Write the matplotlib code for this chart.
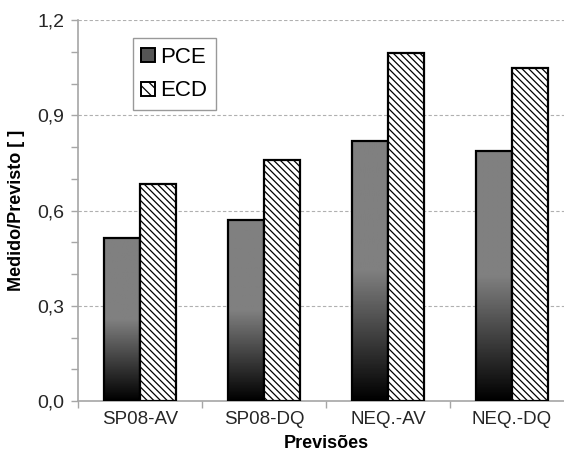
import numpy as np
import matplotlib
matplotlib.use("Agg")
import matplotlib.pyplot as plt
from matplotlib.patches import Rectangle
from matplotlib.ticker import FixedLocator, MultipleLocator, FuncFormatter

# Data
categories = ["SP08-AV", "SP08-DQ", "NEQ.-AV", "NEQ.-DQ"]
pce = [0.512, 0.569, 0.819, 0.787]
ecd = [0.685, 0.758, 1.095, 1.050]
series_names = ["PCE", "ECD"]

plt.rcParams["font.family"] = ["Liberation Sans", "DejaVu Sans"]
plt.rcParams["hatch.linewidth"] = 0.9

fig = plt.figure(figsize=(5.64, 4.54), dpi=100)
ax = fig.add_axes([78 / 564, 53 / 454, 496 / 564, 381 / 454])

x = np.arange(len(categories))
w = 0.29

# PCE: gradient-filled bars (grey top half fading to black at the base)
grad = np.ones((200, 1))
t = np.linspace(0, 1, 200)  # 0 = bottom, 1 = top
grad[:, 0] = np.clip(t / 0.5, 0, 1) * 0.5
for xi, v in zip(x, pce):
    left = xi - w
    ax.imshow(grad, cmap="gray", vmin=0, vmax=1, origin="lower",
              extent=[left, left + w, 0, v], aspect="auto",
              interpolation="bilinear", zorder=2)
bars_pce = ax.bar(x - w / 2, pce, w, facecolor="none", edgecolor="black",
                  linewidth=1.6, zorder=3)

# ECD: hatched bars
bars_ecd = ax.bar(x + w / 2, ecd, w, facecolor="white", edgecolor="black",
                  hatch="\\\\\\\\\\", linewidth=1.6, zorder=3)

ax.set_xlim(-0.5, 3.5)
ax.set_ylim(0, 1.2)
ax.set_aspect("auto")

# Axes styling
for s in ["top", "right"]:
    ax.spines[s].set_visible(False)
for s in ["left", "bottom"]:
    ax.spines[s].set_color("#a6a6a6")
    ax.spines[s].set_linewidth(1.2)

ax.yaxis.set_major_locator(MultipleLocator(0.3))
ax.yaxis.set_minor_locator(MultipleLocator(0.1))
ax.yaxis.set_major_formatter(FuncFormatter(lambda v, p: f"{v:.1f}".replace(".", ",")))
ax.tick_params(axis="y", which="both", direction="out", length=5, width=1,
               color="#a6a6a6", labelsize=14, labelcolor="#262626", pad=5)

ax.xaxis.set_major_locator(FixedLocator([-0.5, 0.5, 1.5, 2.5, 3.5]))
ax.xaxis.set_major_formatter(FuncFormatter(lambda v, p: ""))
ax.xaxis.set_minor_locator(FixedLocator(x))
ax.set_xticklabels(categories, minor=True)
ax.tick_params(axis="x", which="major", direction="out", length=5, width=1,
               color="#a6a6a6")
ax.tick_params(axis="x", which="minor", length=0, labelsize=13.5,
               labelcolor="#262626", pad=7)

ax.grid(axis="y", which="major", linestyle=(0, (3, 2)), color="#b0b0b0",
        linewidth=0.8, zorder=0)
ax.set_axisbelow(True)

ax.set_xlabel("Previsões", fontsize=13, fontweight="bold", labelpad=5)
ax.set_ylabel("Medido/Previsto [ ]", fontsize=13, fontweight="bold", labelpad=9)

# Legend
h_pce = Rectangle((0, 0), 1, 1, facecolor="#555555", edgecolor="black", linewidth=1.4)
h_ecd = Rectangle((0, 0), 1, 1, facecolor="white", edgecolor="black",
                  hatch="\\\\\\", linewidth=1.4)
leg = ax.legend([h_pce, h_ecd], series_names, loc="upper left",
                bbox_to_anchor=(0.11, 0.952), fontsize=16, frameon=True,
                fancybox=False, edgecolor="#808080", handlelength=0.6,
                handleheight=0.6, handletextpad=0.25, labelspacing=0.55,
                borderpad=0.4, borderaxespad=0)
leg.get_frame().set_linewidth(1.0)

fig.savefig("out.png", dpi=100)
